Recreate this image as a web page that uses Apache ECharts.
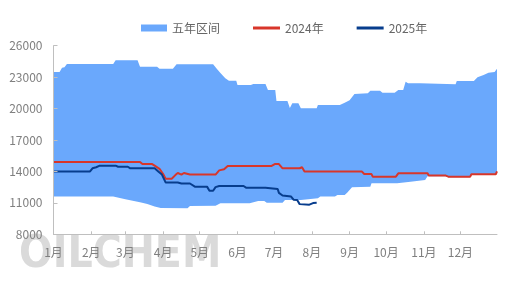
<!DOCTYPE html>
<html>
<head>
<meta charset="utf-8">
<script src="https://cdn.jsdelivr.net/npm/echarts@6/dist/echarts.min.js"></script>
<style>
html,body{margin:0;padding:0;background:#fff;}
#chart{width:522px;height:295px;}
</style>
</head>
<body>
<div id="chart"></div>
<script>
// ---- data ----
const legendNames = ['五年区间', '2024年', '2025年'];
const monthLabels = ['1月','2月','3月','4月','5月','6月','7月','8月','9月','10月','11月','12月'];
const yTickLabels = [8000, 11000, 14000, 17000, 20000, 23000, 26000];

const band5yHigh = [['01-01',23500],['01-06',23500],['01-08',23900],['01-10',23950],['01-12',24250],['02-19',24250],['02-21',24600],['03-11',24600],['03-13',24000],['03-27',24000],['03-29',23800],['04-09',23800],['04-12',24230],['05-12',24230],['05-15',23800],['05-18',23400],['05-22',22900],['05-25',22650],['05-31',22650],['06-01',22250],['06-12',22250],['06-14',22350],['06-24',22350],['06-26',21770],['07-02',21770],['07-03',20720],['07-12',20720],['07-14',20050],['07-16',20500],['07-21',20500],['07-23',20030],['08-05',20030],['08-06',20340],['08-24',20340],['08-28',20560],['09-01',20800],['09-05',21400],['09-16',21460],['09-18',21700],['09-26',21700],['09-28',21510],['10-08',21510],['10-11',21770],['10-15',21770],['10-17',22550],['10-19',22410],['10-29',22410],['10-30',22320],['11-27',22320],['11-28',22630],['12-12',22630],['12-15',23000],['12-20',23200],['12-24',23420],['12-29',23500],['12-31',23800]];

const band5yLow = [['01-01',11600],['02-19',11600],['03-01',11350],['03-13',11050],['03-19',10900],['03-25',10650],['03-30',10500],['04-21',10480],['04-23',10700],['05-14',10730],['05-18',10960],['06-11',10960],['06-18',11180],['06-23',11180],['06-25',11020],['07-08',11020],['07-10',11270],['07-23',11270],['07-24',11440],['08-06',11440],['08-08',11600],['08-20',11600],['08-22',11750],['08-28',11750],['08-30',11970],['09-03',12500],['09-18',12540],['09-19',12870],['10-10',12870],['10-11',13020],['10-21',13020],['10-22',13180],['11-02',13180],['11-04',13550],['11-19',13550],['11-21',13450],['12-09',13450],['12-10',13680],['12-30',13680],['12-31',13900]];

const line2024 = [['01-01',14900],['03-13',14900],['03-15',14700],['03-23',14700],['03-25',14550],['03-29',14250],['04-01',13750],['04-03',13300],['04-08',13300],['04-11',13650],['04-13',13850],['04-16',13700],['04-18',13850],['04-23',13700],['05-14',13700],['05-17',14100],['05-21',14200],['05-24',14520],['06-29',14520],['07-02',14720],['07-05',14700],['07-08',14300],['07-22',14300],['07-24',14400],['07-26',14000],['09-11',14000],['09-13',13750],['09-19',13750],['09-20',13500],['10-09',13500],['10-11',13820],['11-04',13820],['11-05',13600],['11-19',13600],['11-21',13500],['12-09',13500],['12-10',13730],['12-30',13730],['12-31',14000]];

const line2025 = [['01-01',14000],['01-31',14000],['02-02',14300],['02-05',14400],['02-08',14550],['02-21',14550],['02-23',14450],['03-03',14450],['03-05',14300],['03-25',14300],['03-28',14000],['03-31',13700],['04-03',12950],['04-13',12950],['04-16',12850],['04-23',12850],['04-27',12550],['05-07',12550],['05-09',12160],['05-12',12160],['05-14',12500],['05-17',12610],['06-06',12610],['06-08',12450],['06-24',12450],['06-25',12320],['07-04',12320],['07-05',11950],['07-08',11700],['07-15',11600],['07-17',11300],['07-20',11270],['07-22',10880],['07-30',10830],['08-02',10980],['08-05',11000]];

// ---- category axis: every day of the year ----
const daysInMonth = [31,28,31,30,31,30,31,31,30,31,30,31];
const days = [];
daysInMonth.forEach(function (n, m) {
  for (let d = 1; d <= n; d++) {
    days.push(String(m + 1).padStart(2, '0') + '-' + String(d).padStart(2, '0'));
  }
});
const isMonthStart = function (i, v) { return v.slice(3) === '01'; };

const yMin = yTickLabels[0], yMax = yTickLabels[yTickLabels.length - 1];
const yStep = yTickLabels[1] - yTickLabels[0];

const FONT = '"Microsoft YaHei","Noto Sans CJK SC","Noto Sans",sans-serif';
const bandColor = '#6aa8fc';
const redColor = '#d8362a';
const navyColor = '#073d8d';
const axisColor = '#bfbfbf';
const textColor = '#7f7f7f';
const legendText = {color: '#666', fontSize: 12, fontFamily: FONT};

const chart = echarts.init(document.getElementById('chart'), null, {renderer: 'canvas'});
chart.setOption({
  backgroundColor: '#ffffff',
  animation: false,
  textStyle: {fontFamily: FONT},
  graphic: [{
    type: 'text', left: 19, top: 234, z: 0, silent: true,
    scaleX: 0.9,
    style: {
      text: 'OILCHEM', font: 'bold 44px "DejaVu Sans","Liberation Sans",sans-serif',
      fill: '#dadada'
    }
  }],
  legend: [{
    left: 136, top: 17,
    itemWidth: 26, itemHeight: 7, icon: 'rect',
    textStyle: legendText,
    data: [legendNames[0]]
  }, {
    left: 248, top: 17,
    itemWidth: 27, itemHeight: 3, itemGap: 33, icon: 'rect',
    textStyle: legendText,
    data: [legendNames[1], legendNames[2]]
  }],
  grid: {left: 53.5, right: 25, top: 45.7, bottom: 60.7, containLabel: false},
  xAxis: {
    type: 'category', data: days, boundaryGap: false, z: 10,
    axisLine: {lineStyle: {color: axisColor, width: 1}},
    axisTick: {inside: true, length: 3, interval: isMonthStart, lineStyle: {color: axisColor}},
    axisLabel: {
      interval: isMonthStart, margin: 12, color: textColor, fontSize: 12, fontFamily: FONT,
      formatter: function (v) { return monthLabels[parseInt(v.slice(0, 2), 10) - 1]; }
    },
    splitLine: {show: false}
  },
  yAxis: [{
    type: 'value', min: yMin, max: yMax, show: false, splitLine: {show: false}
  }, {
    type: 'value', position: 'left', min: 0, max: yMax - yMin, interval: yStep, z: 10,
    axisLine: {show: true, lineStyle: {color: axisColor, width: 1}},
    axisTick: {show: true, inside: true, length: 4, lineStyle: {color: axisColor}},
    axisLabel: {
      margin: 11, color: textColor, fontSize: 12, fontFamily: FONT,
      formatter: function (v) { return String(v + yMin); }
    },
    splitLine: {show: false}
  }],
  series: [{
    name: legendNames[0], type: 'line', yAxisIndex: 0, z: 1,
    data: band5yHigh, symbol: 'none', showSymbol: false,
    lineStyle: {width: 0, color: bandColor}, itemStyle: {color: bandColor},
    areaStyle: {color: bandColor, opacity: 1, origin: 'start'}
  }, {
    name: '_mask', type: 'line', yAxisIndex: 0, z: 2,
    data: band5yLow, symbol: 'none', showSymbol: false, silent: true,
    lineStyle: {width: 0, color: '#ffffff'}, itemStyle: {color: '#ffffff'},
    areaStyle: {color: '#ffffff', opacity: 1, origin: 'start'}
  }, {
    name: legendNames[1], type: 'line', yAxisIndex: 0, z: 3,
    data: line2024, symbol: 'none', showSymbol: false,
    lineStyle: {width: 2, color: redColor}, itemStyle: {color: redColor}
  }, {
    name: legendNames[2], type: 'line', yAxisIndex: 0, z: 4,
    data: line2025, symbol: 'none', showSymbol: false,
    lineStyle: {width: 2, color: navyColor}, itemStyle: {color: navyColor}
  }]
});
</script>
</body>
</html>
